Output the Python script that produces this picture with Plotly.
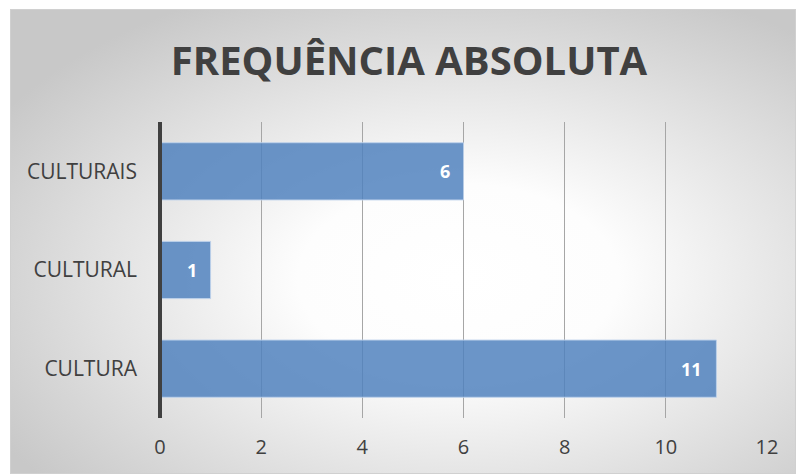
import base64
import plotly.graph_objects as go

categories = ["CULTURA", "CULTURAL", "CULTURAIS"]
counts = [11, 1, 6]
x_ticks = [0, 2, 4, 6, 8, 10, 12]

W, H = 796, 474
L, R, T, B = 160, 29, 122, 56
pw, ph = W - L - R, H - T - B

# soft radial backdrop for the chart frame
svg = (
    '<svg xmlns="http://www.w3.org/2000/svg" width="786" height="465" viewBox="0 0 786 465" preserveAspectRatio="none">'
    '<defs><radialGradient id="g" cx="0.57" cy="0.58" r="0.68" fx="0.57" fy="0.58">'
    '<stop offset="0" stop-color="#ffffff"/>'
    '<stop offset="0.3" stop-color="#fdfdfd"/>'
    '<stop offset="1" stop-color="#c8c8c8"/>'
    '</radialGradient></defs>'
    '<rect width="786" height="465" fill="url(#g)"/>'
    '<rect x="0.5" y="0.5" width="785" height="464" fill="none" stroke="#d0d0d0" stroke-width="1"/>'
    '</svg>'
)
bg_src = "data:image/svg+xml;base64," + base64.b64encode(svg.encode()).decode()

fig = go.Figure()
fig.add_trace(go.Bar(
    y=categories,
    x=counts,
    orientation="h",
    width=0.58,
    marker=dict(color="rgba(79,129,189,0.84)",
                line=dict(color="rgba(190,210,235,0.9)", width=1)),
    hoverinfo="skip",
))

for c, v in zip(categories, counts):
    fig.add_annotation(
        x=v, y=c, text=f"<b>{v}</b>", showarrow=False,
        xanchor="right", xshift=-12,
        font=dict(family="Open Sans", size=18, color="white"),
    )

fig.add_layout_image(
    source=bg_src, xref="paper", yref="paper",
    x=(10 - L) / pw, y=1 + (T - 9) / ph,
    sizex=(W - 10) / pw, sizey=(H - 9) / ph,
    xanchor="left", yanchor="top", sizing="stretch", layer="below",
)

fig.update_layout(
    width=W, height=H,
    margin=dict(l=L, r=R, t=T, b=B),
    paper_bgcolor="white",
    plot_bgcolor="rgba(0,0,0,0)",
    showlegend=False,
    title=dict(
        text="<b>FREQUÊNCIA ABSOLUTA</b>",
        x=409 / W, xanchor="center",
        y=1 - 61 / H, yanchor="middle",
        font=dict(family="Open Sans", size=40, color="#404040"),
    ),
    xaxis=dict(
        range=[0, 12], tickvals=x_ticks, ticktext=[str(t) for t in x_ticks],
        showgrid=True, gridcolor="#a6a6a6", gridwidth=1,
        zeroline=False, showline=False, ticks="",
        tickfont=dict(family="Open Sans", size=20, color="#404040"),
        ticklabelstandoff=15,
        fixedrange=True,
    ),
    yaxis=dict(
        categoryorder="array", categoryarray=categories,
        showgrid=False, zeroline=False, showline=False, ticks="",
        tickfont=dict(family="Open Sans", size=21, color="#404040"),
        ticklabelstandoff=22,
        fixedrange=True,
    ),
    shapes=[dict(
        type="line", xref="paper", yref="paper", x0=0, x1=0, y0=0, y1=1,
        line=dict(color="#404040", width=4), layer="above",
    )],
)

fig.write_html("out.html")
